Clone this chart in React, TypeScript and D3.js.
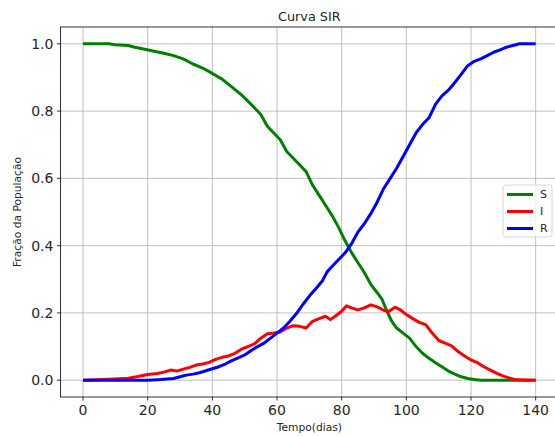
import React from "react";
import * as d3 from "d3";

const title = "Curva SIR";
const xLabel = "Tempo(dias)";
const yLabel = "Fração da População";
const xTicks = [0, 20, 40, 60, 80, 100, 120, 140];
const yTicks = [0.0, 0.2, 0.4, 0.6, 0.8, 1.0];
const seriesNames = ["S", "I", "R"];

const sDays = [0, 8, 10, 14, 16, 18, 22, 25, 28, 31, 34, 37, 40, 43, 46, 49, 52, 55, 57, 59, 61, 63, 66, 69, 71, 73, 75, 77, 79, 81, 83, 85, 87, 89, 91, 92.5, 94, 95.5, 97, 99, 101, 103, 105, 107, 109, 111, 113, 115, 117, 119, 121, 123, 140];
const sVals = [1.0, 1.0, 0.997, 0.995, 0.99, 0.986, 0.978, 0.972, 0.965, 0.955, 0.94, 0.928, 0.912, 0.895, 0.872, 0.848, 0.82, 0.79, 0.755, 0.735, 0.715, 0.68, 0.65, 0.62, 0.58, 0.55, 0.52, 0.49, 0.455, 0.415, 0.38, 0.35, 0.32, 0.285, 0.26, 0.24, 0.205, 0.175, 0.155, 0.14, 0.125, 0.1, 0.08, 0.065, 0.052, 0.04, 0.027, 0.018, 0.01, 0.005, 0.002, 0, 0];

const iDays = [0, 8, 14, 17, 20, 23, 25, 27, 29, 31, 33, 35, 37, 39, 41, 43, 45, 47, 49, 51, 53, 55, 57, 59, 61, 63, 65, 67, 69, 71, 73, 75, 76.5, 78, 80, 81.5, 83, 85, 87, 89, 91, 93, 94.5, 96.5, 98, 100, 102, 104, 106, 108, 110, 112, 114, 116, 118, 120, 122, 124, 126, 128, 130, 132, 134, 140];
const iVals = [0, 0.003, 0.006, 0.011, 0.017, 0.02, 0.024, 0.03, 0.027, 0.033, 0.038, 0.045, 0.048, 0.053, 0.062, 0.068, 0.072, 0.08, 0.092, 0.1, 0.108, 0.125, 0.138, 0.14, 0.143, 0.155, 0.162, 0.16, 0.155, 0.175, 0.183, 0.19, 0.18, 0.19, 0.205, 0.221, 0.215, 0.209, 0.215, 0.224, 0.218, 0.208, 0.204, 0.217, 0.21, 0.195, 0.183, 0.172, 0.165, 0.14, 0.118, 0.11, 0.102, 0.085, 0.072, 0.06, 0.052, 0.04, 0.03, 0.02, 0.012, 0.006, 0.001, 0];

const rDays = [0, 20, 24, 28, 30, 32, 34, 36, 38, 40, 42, 44, 46, 48, 50, 52, 54, 56, 58, 60, 62, 64, 66, 68, 70, 72, 74, 75.5, 77, 79, 81, 83, 85, 87, 89, 91, 93, 95, 97, 99, 101, 103, 105, 107, 109, 111, 113, 115, 117, 119, 121, 123, 125, 127, 129, 131, 133, 135, 140];
const rVals = [0, 0, 0.002, 0.005, 0.01, 0.015, 0.018, 0.022, 0.028, 0.034, 0.04, 0.048, 0.058, 0.066, 0.075, 0.088, 0.1, 0.11, 0.125, 0.14, 0.155, 0.175, 0.198, 0.225, 0.25, 0.272, 0.295, 0.322, 0.338, 0.358, 0.378, 0.405, 0.44, 0.465, 0.495, 0.53, 0.57, 0.6, 0.63, 0.665, 0.7, 0.735, 0.76, 0.78, 0.82, 0.845, 0.862, 0.885, 0.91, 0.935, 0.948, 0.955, 0.965, 0.975, 0.982, 0.99, 0.995, 1.0, 1.0];

const colors = ["#008000", "#ff0000", "#0000ff"];

export default function App() {
  const W = 555, H = 436;
  const left = 60.4, right = 558.3, top = 27, bottom = 397;
  const x = d3.scaleLinear().domain([-7, 147]).range([left, right]);
  const y = d3.scaleLinear().domain([-0.05, 1.05]).range([bottom, top]);
  const font = "'DejaVu Sans', sans-serif";

  const series = [
    { name: seriesNames[0], days: sDays, vals: sVals, color: colors[0] },
    { name: seriesNames[1], days: iDays, vals: iVals, color: colors[1] },
    { name: seriesNames[2], days: rDays, vals: rVals, color: colors[2] },
  ];
  const line = d3
    .line<[number, number]>()
    .x((d) => x(d[0]))
    .y((d) => y(d[1]));

  const legX = 503, legY = 185, legW = 49, legH = 52;

  return (
    <svg
      width={W}
      height={H}
      style={{ position: "absolute", left: 0, top: 0, background: "#fff" }}
      fontFamily={font}
    >
      <defs>
        <clipPath id="plot">
          <rect x={left} y={top} width={right - left} height={bottom - top} />
        </clipPath>
      </defs>
      <rect x={0} y={0} width={W} height={H} fill="#fff" />
      {/* grid */}
      {xTicks.map((t) => (
        <line key={"gx" + t} x1={x(t)} x2={x(t)} y1={top} y2={bottom} stroke="#b0b0b0" strokeWidth={0.8} />
      ))}
      {yTicks.map((t) => (
        <line key={"gy" + t} x1={left} x2={right} y1={y(t)} y2={y(t)} stroke="#b0b0b0" strokeWidth={0.8} />
      ))}
      {/* lines */}
      <g clipPath="url(#plot)">
        {series.map((s) => (
          <path
            key={s.name}
            d={line(s.days.map((d, i) => [d, s.vals[i]] as [number, number])) || ""}
            fill="none"
            stroke={s.color}
            strokeWidth={3}
            strokeLinejoin="round"
            strokeLinecap="butt"
          />
        ))}
      </g>
      {/* spines */}
      <rect x={left} y={top} width={right - left} height={bottom - top} fill="none" stroke="#000" strokeWidth={0.8} />
      {/* x ticks */}
      {xTicks.map((t) => (
        <g key={"tx" + t}>
          <line x1={x(t)} x2={x(t)} y1={bottom} y2={bottom + 3.5} stroke="#000" strokeWidth={0.8} />
          <text x={x(t)} y={bottom + 17.5} fontSize={14} textAnchor="middle" fill="#262626">
            {t}
          </text>
        </g>
      ))}
      {/* y ticks */}
      {yTicks.map((t) => (
        <g key={"ty" + t}>
          <line x1={left - 3.5} x2={left} y1={y(t)} y2={y(t)} stroke="#000" strokeWidth={0.8} />
          <text x={left - 7} y={y(t)} dy="0.36em" fontSize={14} textAnchor="end" fill="#262626">
            {t.toFixed(1)}
          </text>
        </g>
      ))}
      {/* labels */}
      <text x={(left + right) / 2} y={21} fontSize={12.8} textAnchor="middle" fill="#262626">
        {title}
      </text>
      <text x={(left + right) / 2} y={431} fontSize={10.7} textAnchor="middle" fill="#262626">
        {xLabel}
      </text>
      <text
        transform={`translate(21, ${(top + bottom) / 2}) rotate(-90)`}
        fontSize={10.7}
        textAnchor="middle"
        fill="#262626"
      >
        {yLabel}
      </text>
      {/* legend */}
      <rect x={legX} y={legY} width={legW} height={legH} rx={3} fill="#fff" fillOpacity={0.8} stroke="#cccccc" strokeWidth={0.8} />
      {series.map((s, i) => {
        const yy = legY + 9.5 + i * 17;
        return (
          <g key={"lg" + s.name}>
            <line x1={legX + 4} x2={legX + 30} y1={yy} y2={yy} stroke={s.color} strokeWidth={3} />
            <text x={legX + 37} y={yy} dy="0.36em" fontSize={11} fill="#262626">
              {s.name}
            </text>
          </g>
        );
      })}
    </svg>
  );
}
